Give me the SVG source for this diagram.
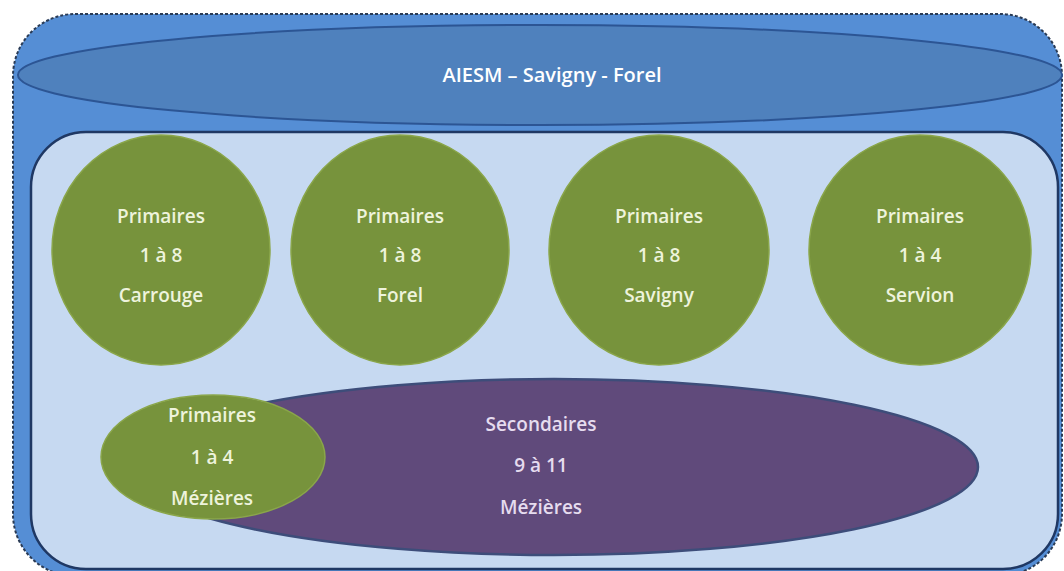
<svg xmlns="http://www.w3.org/2000/svg" width="1064" height="571" viewBox="0 0 1064 571">
<style>
.g{fill:#77933c;stroke:#8aa64a;stroke-width:1.5}
.t{font-family:"Open Sans","Liberation Sans",sans-serif;font-size:19px;font-weight:600;text-anchor:middle;fill:#eef3dc}
.tp{fill:#e6dcef}
</style>
<rect width="1064" height="571" fill="#ffffff"/>
<g id="outer">
<rect x="13" y="14" width="1049" height="562" rx="62" ry="62" fill="#558ed5" stroke="#2a3b55" stroke-width="2" stroke-dasharray="3,2"/>
</g>
<g id="title">
<ellipse cx="540" cy="75" rx="522" ry="50" fill="#4f81bd" stroke="#2c5594" stroke-width="2"/>
<text class="t" x="552" y="82" style="fill:#ffffff;font-size:20px">AIESM – Savigny - Forel</text>
</g>
<g id="inner">
<rect x="31" y="132" width="1027" height="437" rx="55" ry="55" fill="#c6d9f1" stroke="#1f3864" stroke-width="2.5"/>
</g>
<g id="carrouge">
<ellipse class="g" cx="161" cy="250" rx="109" ry="115"/>
<text class="t" x="161" y="223">Primaires</text>
<text class="t" x="161" y="262">1 à 8</text>
<text class="t" x="161" y="302">Carrouge</text>
</g>
<g id="forel">
<ellipse class="g" cx="400" cy="250" rx="109" ry="115"/>
<text class="t" x="400" y="223">Primaires</text>
<text class="t" x="400" y="262">1 à 8</text>
<text class="t" x="400" y="302">Forel</text>
</g>
<g id="savigny">
<ellipse class="g" cx="659" cy="250" rx="110" ry="115"/>
<text class="t" x="659" y="223">Primaires</text>
<text class="t" x="659" y="262">1 à 8</text>
<text class="t" x="659" y="302">Savigny</text>
</g>
<g id="servion">
<ellipse class="g" cx="920" cy="250" rx="111" ry="115"/>
<text class="t" x="920" y="223">Primaires</text>
<text class="t" x="920" y="262">1 à 4</text>
<text class="t" x="920" y="302">Servion</text>
</g>
<g id="secondaires">
<ellipse cx="554" cy="467" rx="424" ry="88" fill="#604a7b" stroke="#3d4d7a" stroke-width="2.5"/>
<text class="t tp" x="541" y="431">Secondaires</text>
<text class="t tp" x="541" y="472">9 à 11</text>
<text class="t tp" x="541" y="514">Mézières</text>
</g>
<g id="mezieres">
<ellipse class="g" cx="213" cy="457" rx="112" ry="62"/>
<text class="t" x="212" y="422">Primaires</text>
<text class="t" x="212" y="464">1 à 4</text>
<text class="t" x="212" y="505">Mézières</text>
</g>
<g id="connectors"></g>
</svg>
